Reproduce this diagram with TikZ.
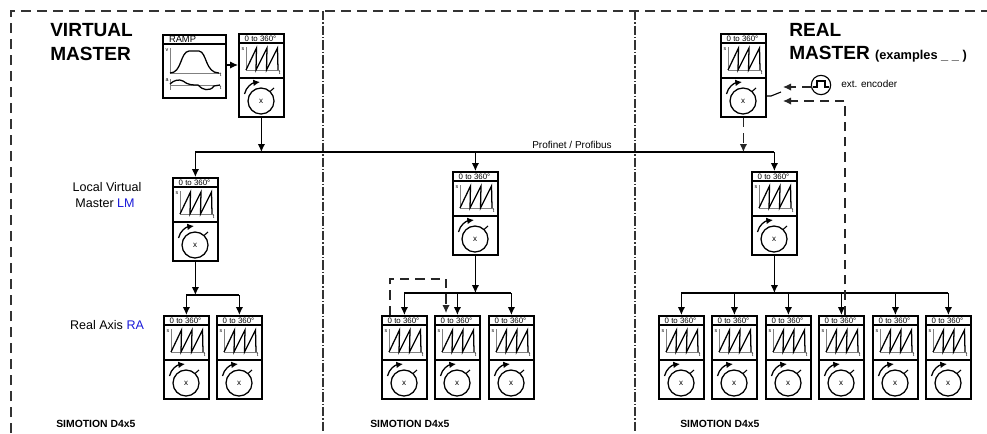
\documentclass[tikz,border=0pt]{standalone}
\usepackage{fontspec}
\setmainfont{Liberation Sans}
\usetikzlibrary{arrows.meta}
\definecolor{framegray}{gray}{0.2}
\definecolor{lblblue}{rgb}{0.1,0.1,0.85}
\tikzset{
    blockbox/.style={draw, line width=1.35pt, anchor=north west, inner sep=0pt, minimum width=33.75pt, minimum height=62.5pt},
    rampbox/.style={blockbox, minimum width=47.25pt, minimum height=47.25pt},
    thin line/.style={line width=0.5pt},
    conn/.style={line width=0.85pt},
    connarrow/.style={conn, -{Latex[length=6pt,width=5.5pt]}},
    conndash/.style={connarrow, dash pattern=on 7pt off 4.5pt, black!85},
    frameline/.style={line width=1pt, framegray, dash pattern=on 7.5pt off 4.5pt},
    framedot/.style={line width=1pt, framegray, dash pattern=on 7pt off 1.5pt on 1pt off 1.5pt},
    tinytxt/.style={font=\fontsize{4}{4}\selectfont, inner sep=0pt},
    headtxt/.style={font=\fontsize{5.9}{6}\selectfont, inner sep=0pt},
    biglbl/.style={font=\fontsize{14.3}{16}\selectfont\bfseries, anchor=west, inner sep=0pt},
    txtlbl/.style={font=\fontsize{9.4}{12}\selectfont, inner sep=0pt},
    smalllbl/.style={font=\fontsize{7.5}{9}\selectfont, inner sep=0pt},
    boldlbl/.style={font=\fontsize{7.8}{9}\selectfont\bfseries, anchor=west, inner sep=0pt}
}
% one axis block: name, left, top
\newcommand{\axisblock}[3]{%
  \node[blockbox] (#1) at (#2,#3) {};
  \begin{scope}[shift={(#2,#3)}]
    \draw[line width=1.2pt] (0,10) -- (45,10);
    \draw[line width=1.2pt] (0,45) -- (45,45);
    \node[headtxt] (#1head) at (22.5,5.3) {0 to 360°};
    \node[tinytxt] (#1s) at (5,16) {s};
    \node[tinytxt] (#1t) at (41.5,40) {t};
    \draw[thin line, gray] (8,14) -- (8,37) -- (42,37);
    \draw[line width=0.95pt] (8,37) -- (18.5,15) -- (18,37) -- (29,15) -- (28.5,37) -- (39.5,15) -- (40,37);
    \draw[line width=0.8pt] (32,58.5) -- (36,55);
    \draw[line width=0.95pt, fill=white] (23,68) circle (13);
    \node[tinytxt, font=\fontsize{6}{6}\selectfont] (#1x) at (23,68) {x};
    \draw[line width=0.95pt, -{Latex[length=5pt,width=5pt]}] (6.5,61) .. controls (8,54) and (14,50) .. (22,49);
  \end{scope}
}
\begin{document}
\begin{tikzpicture}[x=0.75pt,y=-0.75pt]
\useasboundingbox (0,0) rectangle (987,433);

% frame
\draw[frameline] (11,433) -- (11,11) -- (987,11);
\draw[framedot] (323,11) -- (323,433);
\draw[framedot] (635,11) -- (635,433);

% titles
\node[biglbl] (virt1) at (50,30) {VIRTUAL};
\node[biglbl] (virt2) at (50,54) {MASTER};
\node[biglbl] (real1) at (789,30) {REAL};
\node[biglbl] (real2) at (789,54) {MASTER {\fontsize{9.6}{12}\selectfont (examples \_ \_ )}};
\node[txtlbl] (lmlbl) at (107,187) {Local Virtual};
\node[txtlbl] (lmlbl2) at (105,203) {Master \textcolor{lblblue}{LM}};
\node[txtlbl] (ralbl) at (107,325) {Real Axis \textcolor{lblblue}{RA}};
\node[boldlbl] (sim1) at (56,424) {SIMOTION D4x5};
\node[boldlbl] (sim2) at (370,424) {SIMOTION D4x5};
\node[boldlbl] (sim3) at (680,424) {SIMOTION D4x5};
\node[smalllbl] (buslbl) at (572,145) {Profinet / Profibus};

% ramp
\node[rampbox] (ramp) at (162,34) {};
\begin{scope}[shift={(162,34)}]
  \draw[line width=1.2pt] (0,10) -- (63,10);
  \node[font=\fontsize{7}{7}\selectfont, inner sep=0pt] (ramphead) at (20.5,5.3) {RAMP};
  \node[tinytxt] (rampv) at (5,16) {v};
  \node[tinytxt] (rampa) at (5,46) {a};
  \node[tinytxt] (rampt) at (58.5,41) {t};
  \node[tinytxt] (rampu) at (58.5,53.5) {t};
  \draw[thin line, gray] (8,14) -- (8,39) -- (58,39);
  \draw[thin line, gray] (8,45) -- (8,56);
  \draw[thin line, gray] (8,51) -- (58,51);
  \draw[line width=0.95pt] (8,39) .. controls (20,39) and (18,18) .. (27,17) -- (37,17) .. controls (45,18) and (43,39) .. (57,39);
  \draw[line width=0.95pt] (8,50) .. controls (12,46) and (17,45) .. (21,47) .. controls (26,51) and (30,51) .. (36,51) .. controls (40,56) and (48,58) .. (52,52) -- (58,51);
\end{scope}

% blocks
\axisblock{vm}{238}{33}
\axisblock{rm}{720}{33}
\axisblock{lm}{172}{177}
\axisblock{mida}{452}{171}
\axisblock{rgta}{751}{171}
\foreach \nm/\px in {la/163,lb/216}{\axisblock{\nm}{\px}{315}}
\foreach \nm/\px in {ma/381,mb/434,mc/488}{\axisblock{\nm}{\px}{315}}
\foreach \nm/\px in {ra/658,rb/711,rc/765,rd/818,re/872,rf/925}{\axisblock{\nm}{\px}{315}}

% field bus
\coordinate (vmbus) at (vm.south |- 0,152);
\coordinate (rmbus) at (rm.south |- vmbus);
\coordinate (busl) at (lm.north |- vmbus);
\coordinate (busm) at (mida.north |- vmbus);
\coordinate (busr) at (rgta.north |- vmbus);
\draw[connarrow] (ramp.east |- 0,65) -- (vm.west |- 0,65);
\draw[connarrow] (vm.south) -- (vmbus);
\draw[conn] (busl) -- (busr);
\draw[connarrow] (busl) -- (lm.north);
\draw[connarrow] (busm) -- (mida.north);
\draw[connarrow] (busr) -- (rgta.north);
\draw[conndash] (rm.south) -- (rmbus);

% left group
\coordinate (lbus) at (lm.south |- 0,295);
\draw[connarrow] (lm.south) -- (lbus);
\draw[conn] (la.north |- lbus) -- (lb.north |- lbus);
\draw[connarrow] (la.north |- lbus) -- (la.north);
\draw[connarrow] (lb.north |- lbus) -- (lb.north);

% middle group
\coordinate (mbus) at (mida.south |- 0,293);
\draw[connarrow] (mida.south) -- (mbus);
\draw[conn] (ma.north |- mbus) -- (mc.north |- mbus);
\foreach \nm in {ma,mb,mc}{\draw[connarrow] (\nm.north |- mbus) -- (\nm.north);}
\coordinate (dashs) at (390,315);
\coordinate (dashe) at (446,313);
\draw[conndash] (dashs) -- (390,279) -- (446,279) -- (dashe);

% right group
\coordinate (rbus) at (rgta.south |- 0,293);
\draw[connarrow] (rgta.south) -- (rbus);
\draw[conn] (ra.north |- rbus) -- (rf.north |- rbus);
\foreach \nm in {ra,rb,rc,rd,re,rf}{\draw[connarrow] (\nm.north |- rbus) -- (\nm.north);}

% encoder and switch
\node[draw, circle, conn, minimum size=14.5pt, inner sep=0pt] (enc) at (821,85) {};
\draw[line width=0.9pt] (813,87) -- (817,87) -- (817,81) -- (825,81) -- (825,87) -- (829,87);
\node[smalllbl, anchor=west] (enclbl) at (841,84) {ext. encoder};
\coordinate (enca) at (811.5,87);
\coordinate (swa) at (783,87);
\coordinate (swb) at (783,101);
\coordinate (swc) at (845,101);
\coordinate (swd) at (845,315);
\draw[conndash] (enca) -- (swa);
\draw[conndash] (swd) -- (swc) -- (swb);
\draw[conn] (rm.east |- 0,96) -- (771,96) -- (781,92);
\end{tikzpicture}
\end{document}
